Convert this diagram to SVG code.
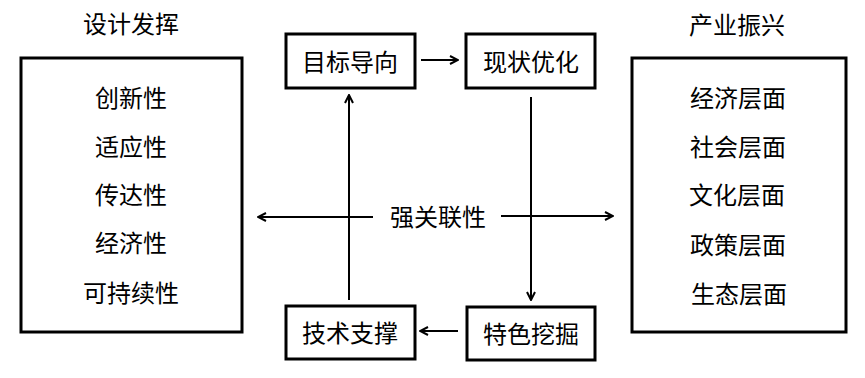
<svg xmlns="http://www.w3.org/2000/svg" width="865" height="378" viewBox="0 0 865 378">
<style>
.box{fill:#fff;stroke:#000;stroke-width:3}
.t{font-family:"Noto Sans CJK SC","Microsoft YaHei",sans-serif;font-size:24px;fill:#000;text-anchor:middle;dominant-baseline:central}
.c{stroke:#000;stroke-width:2;fill:none;marker-end:url(#ah)}
</style>
<defs>
<marker id="ah" viewBox="0 0 10 10" refX="9" refY="5" markerWidth="10" markerHeight="10" markerUnits="userSpaceOnUse" orient="auto">
<path d="M1,1 L9,5 L1,9" fill="none" stroke="#000" stroke-width="2"/>
</marker>
</defs>
<rect width="865" height="378" fill="#fff"/>
<g id="connectors">
<line class="c" x1="421" y1="60" x2="458" y2="60"/>
<line class="c" x1="531" y1="97" x2="531" y2="300"/>
<line class="c" x1="458" y1="331" x2="420" y2="331"/>
<line class="c" x1="349" y1="300" x2="349" y2="95"/>
<line class="c" x1="373" y1="217" x2="258" y2="217"/>
<line class="c" x1="501" y1="216" x2="613" y2="216"/>
</g>
<g id="left">
<text class="t" x="131" y="22">设计发挥</text>
<rect class="box" x="21" y="58" width="221" height="274"/>
<text class="t" x="131" y="96">创新性</text>
<text class="t" x="131" y="145">适应性</text>
<text class="t" x="131" y="193">传达性</text>
<text class="t" x="131" y="241">经济性</text>
<text class="t" x="131" y="291">可持续性</text>
</g>
<g id="right">
<text class="t" x="737" y="23">产业振兴</text>
<rect class="box" x="632" y="58" width="214" height="274"/>
<text class="t" x="738" y="96">经济层面</text>
<text class="t" x="738" y="145">社会层面</text>
<text class="t" x="737" y="193">文化层面</text>
<text class="t" x="738" y="243">政策层面</text>
<text class="t" x="739" y="292">生态层面</text>
</g>
<g id="mubiao">
<rect class="box" x="286" y="34" width="129" height="54"/>
<text class="t" x="350" y="60">目标导向</text>
</g>
<g id="xianzhuang">
<rect class="box" x="466" y="34" width="129" height="54"/>
<text class="t" x="531" y="60">现状优化</text>
</g>
<g id="jishu">
<rect class="box" x="286" y="306" width="129" height="53"/>
<text class="t" x="350" y="331">技术支撑</text>
</g>
<g id="tese">
<rect class="box" x="467" y="307" width="128" height="53"/>
<text class="t" x="531" y="332">特色挖掘</text>
</g>
<g id="qiang">
<text class="t" x="438" y="215">强关联性</text>
</g>
</svg>
